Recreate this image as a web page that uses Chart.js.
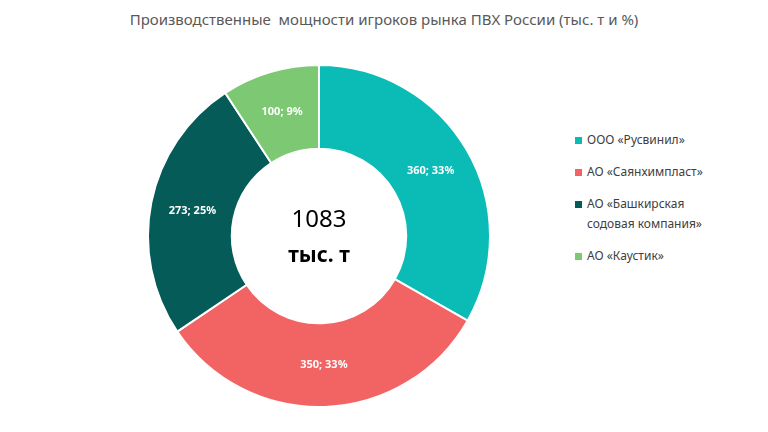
<!DOCTYPE html>
<html><head><meta charset="utf-8">
<script src="https://cdn.jsdelivr.net/npm/chart.js@4"></script>
<style>
body{margin:0;width:768px;height:432px;background:#fff;font-family:"Noto Sans",sans-serif;position:relative;overflow:hidden}
#title{position:absolute;top:9px;left:0;width:768px;text-align:center;font-size:15px;color:#595959}
#wrap{position:absolute;left:147px;top:64px;width:344px;height:344px}
#legend{position:absolute;left:575px;top:130px;font-size:12px;color:#404040}
.li{position:relative;padding-left:12px;line-height:20px;margin-bottom:12px}
.sw{position:absolute;left:0;top:7px;width:7px;height:7px}
</style></head><body>
<div id="title">Производственные&nbsp; мощности игроков рынка ПВХ России (тыс. т и %)</div>
<div id="wrap"><canvas id="c"></canvas></div>
<div id="legend"></div>
<script>
const labels = ["ООО «Русвинил»", "АО «Саянхимпласт»", "АО «Башкирская\nсодовая компания»", "АО «Каустик»"];
const values = [360, 350, 273, 100];
const percents = [33, 33, 25, 9];
const colors = ['#0BBBB6', '#F26463', '#055B58', '#7DC873'];
const total = 1083;

const leg = document.getElementById('legend');
labels.forEach((l, i) => {
  const d = document.createElement('div');
  d.className = 'li';
  d.innerHTML = '<span class="sw" style="background:' + colors[i] + '"></span>' + l.replace('\n', '<br>');
  leg.appendChild(d);
});

const sliceLabels = {
  id: 'sliceLabels',
  afterDatasetsDraw(chart) {
    const ctx = chart.ctx;
    const meta = chart.getDatasetMeta(0);
    ctx.save();
    ctx.fillStyle = '#fff';
    ctx.font = 'bold 11px "Noto Sans"';
    ctx.textAlign = 'center';
    ctx.textBaseline = 'middle';
    meta.data.forEach((arc, i) => {
      const p = arc.tooltipPosition();
      ctx.fillText(values[i] + '; ' + percents[i] + '%', p.x, p.y);
    });
    const cx = (chart.chartArea.left + chart.chartArea.right) / 2;
    const cy = (chart.chartArea.top + chart.chartArea.bottom) / 2;
    ctx.fillStyle = '#000';
    ctx.font = '24px "Noto Sans"';
    ctx.fillText(String(total), cx, cy - 16);
    ctx.font = 'bold 21px "Noto Sans"';
    ctx.fillText('тыс. т', cx, cy + 20);
    ctx.restore();
  }
};

new Chart(document.getElementById('c'), {
  type: 'doughnut',
  data: { labels: labels, datasets: [{ data: values, backgroundColor: colors, borderColor: '#fff', borderWidth: 2 }] },
  options: {
    responsive: true, maintainAspectRatio: false, animation: false,
    cutout: '51%',
    layout: { padding: 0 },
    plugins: { legend: { display: false }, tooltip: { enabled: false } }
  },
  plugins: [sliceLabels]
});
</script>
</body></html>
